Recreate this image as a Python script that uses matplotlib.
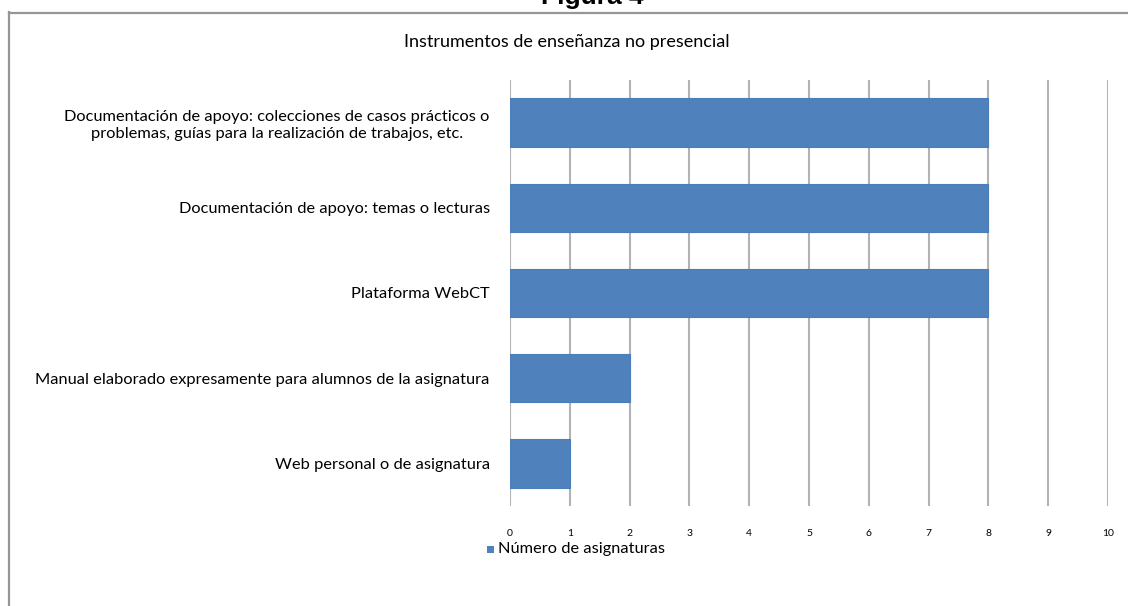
import matplotlib
matplotlib.use("Agg")
import matplotlib.pyplot as plt
from matplotlib.lines import Line2D
from matplotlib.patches import Rectangle

categories = [
    "Documentación de apoyo: colecciones de casos prácticos o\nproblemas, guías para la realización de trabajos, etc.",
    "Documentación de apoyo: temas o lecturas",
    "Plataforma WebCT",
    "Manual elaborado expresamente para alumnos de la asignatura",
    "Web personal o de asignatura",
]
values = [8, 8, 8, 2, 1]
xticks = list(range(0, 11))
series_name = "Número de asignaturas"
title = "Instrumentos de enseñanza no presencial"
fig_title = "Figura 4"

W, H = 1128, 606
fig = plt.figure(figsize=(W / 100, H / 100), dpi=100)
fig.patch.set_facecolor("white")

font = "Lato"
bar_color = "#4F81BD"

# axes: x 510..1108, y 80..506 (pixels from top)
ax = fig.add_axes([510 / W, 1 - 506 / H, (1108 - 510) / W, (506 - 80) / H])
n = len(categories)
ypos = list(range(n))
ax.barh(ypos, values, height=0.57, color=bar_color, edgecolor="#4A7EBB", linewidth=0.8, zorder=3)
ax.set_xlim(0, 10)
ax.set_ylim(n - 0.5, -0.5)
ax.set_xticks(xticks)
ax.set_xticklabels([str(t) for t in xticks], fontsize=7.5, family=font)
ax.tick_params(axis="x", length=0, pad=16.5)
ax.set_yticks(ypos)
ax.set_yticklabels(categories, fontsize=11.8, family=font, linespacing=1.3)
for lbl in ax.get_yticklabels():
    lbl.set_horizontalalignment("right")
    lbl.set_multialignment("center")
ax.tick_params(axis="y", length=0, pad=14.5)
ax.grid(axis="x", color="#B3B3B3", linewidth=1.5, zorder=0)
for s in ax.spines.values():
    s.set_visible(False)

# title
fig.text(567 / W, 1 - 42 / H, title, ha="center", va="center", fontsize=13, family=font)
# figure caption (cut off at top)
fig.text(592 / W, 1 - 4 / H, fig_title, ha="center", va="baseline", fontsize=19,
         family="Liberation Sans", weight="bold")

# border
fig.add_artist(Line2D([9 / W, 9 / W], [0, 1 - 12 / H], transform=fig.transFigure,
                      color="#969696", linewidth=1.6))
fig.add_artist(Line2D([9 / W, 1], [1 - 12.5 / H, 1 - 12.5 / H], transform=fig.transFigure,
                      color="#969696", linewidth=1.6))

# legend
fig.add_artist(Rectangle((487 / W, 1 - 553 / H), 7 / W, 7 / H, transform=fig.transFigure,
                         facecolor=bar_color, edgecolor="none"))
fig.text(498 / W, 1 - 549 / H, series_name, ha="left", va="center", fontsize=11.8, family=font)

fig.savefig("out.png", dpi=100, facecolor="white")
